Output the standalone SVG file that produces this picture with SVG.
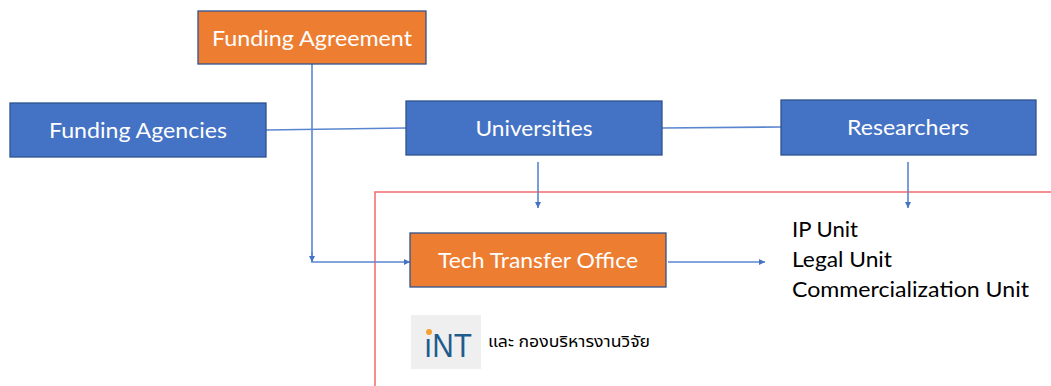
<svg xmlns="http://www.w3.org/2000/svg" width="1051" height="386" viewBox="0 0 1051 386">
<style>
.box{stroke:#2F528F;stroke-width:1.3}
.blue{fill:#4472C4}
.orange{fill:#ED7D31}
.lbl{font-family:Lato,"Liberation Sans",sans-serif;font-size:21px;fill:#FFFFFF;text-anchor:middle}
.unit{font-family:Lato,"Liberation Sans",sans-serif;font-size:21px;fill:#000000}
.conn{stroke:#5A86D0;stroke-width:1.6;fill:none}
</style>
<defs>
<marker id="ah" viewBox="0 0 10 10" refX="10" refY="5" markerWidth="6" markerHeight="6" orient="auto" markerUnits="userSpaceOnUse">
<path d="M0,0 L10,5 L0,10 Z" fill="#4472C4"/>
</marker>
</defs>
<rect width="1051" height="386" fill="#FFFFFF"/>
<g id="boundary">
<path d="M375,386 L375,192 L1051,192" fill="none" stroke="#F26B6B" stroke-width="1.5"/>
</g>
<g id="connectors">
<line class="conn" x1="266" y1="130" x2="406" y2="128"/>
<line class="conn" x1="662" y1="128" x2="781" y2="127"/>
<path class="conn" d="M312,64 L312,262 L410,262" marker-end="url(#ah)"/>
<path class="conn" d="M312,252 L312,262" marker-end="url(#ah)"/>
<line class="conn" x1="538" y1="162" x2="538" y2="208" marker-end="url(#ah)"/>
<line class="conn" x1="908" y1="162" x2="908" y2="208" marker-end="url(#ah)"/>
<line class="conn" x1="668" y1="262" x2="765" y2="262" marker-end="url(#ah)"/>
</g>
<g id="funding-agreement">
<rect class="box orange" x="198" y="11" width="228" height="53"/>
<text class="lbl" x="312" y="46" textLength="200" lengthAdjust="spacingAndGlyphs">Funding Agreement</text>
</g>
<g id="funding-agencies">
<rect class="box blue" x="10" y="103" width="256" height="54"/>
<text class="lbl" x="138" y="138" textLength="178" lengthAdjust="spacingAndGlyphs">Funding Agencies</text>
</g>
<g id="universities">
<rect class="box blue" x="406" y="101" width="256" height="54"/>
<text class="lbl" x="534" y="136" textLength="117" lengthAdjust="spacingAndGlyphs">Universities</text>
</g>
<g id="researchers">
<rect class="box blue" x="781" y="100" width="255" height="55"/>
<text class="lbl" x="908" y="135" textLength="122" lengthAdjust="spacingAndGlyphs">Researchers</text>
</g>
<g id="tech-transfer-office">
<rect class="box orange" x="410" y="233" width="256" height="54"/>
<text class="lbl" x="538" y="268" textLength="200" lengthAdjust="spacingAndGlyphs">Tech Transfer Office</text>
</g>
<g id="units">
<text class="unit" x="792" y="237" textLength="66" lengthAdjust="spacingAndGlyphs">IP Unit</text>
<text class="unit" x="792" y="267" textLength="100" lengthAdjust="spacingAndGlyphs">Legal Unit</text>
<text class="unit" x="792" y="297" textLength="237" lengthAdjust="spacingAndGlyphs">Commercialization Unit</text>
</g>
<g id="logo">
<rect x="411" y="315" width="70" height="54" fill="#EFEFEF"/>
<text x="424" y="357" font-family="'Liberation Sans',sans-serif" font-size="33" fill="#1F5C8C" textLength="48" lengthAdjust="spacingAndGlyphs">ıNT</text>
<circle cx="429" cy="332" r="3" fill="#F5A033"/>
</g>
<g id="note">
<text x="488" y="347" font-family="'Noto Sans Thai','Noto Sans','DejaVu Sans',sans-serif" font-size="16" fill="#000000" textLength="162" lengthAdjust="spacingAndGlyphs">และ กองบริหารงานวิจัย</text>
</g>
</svg>
